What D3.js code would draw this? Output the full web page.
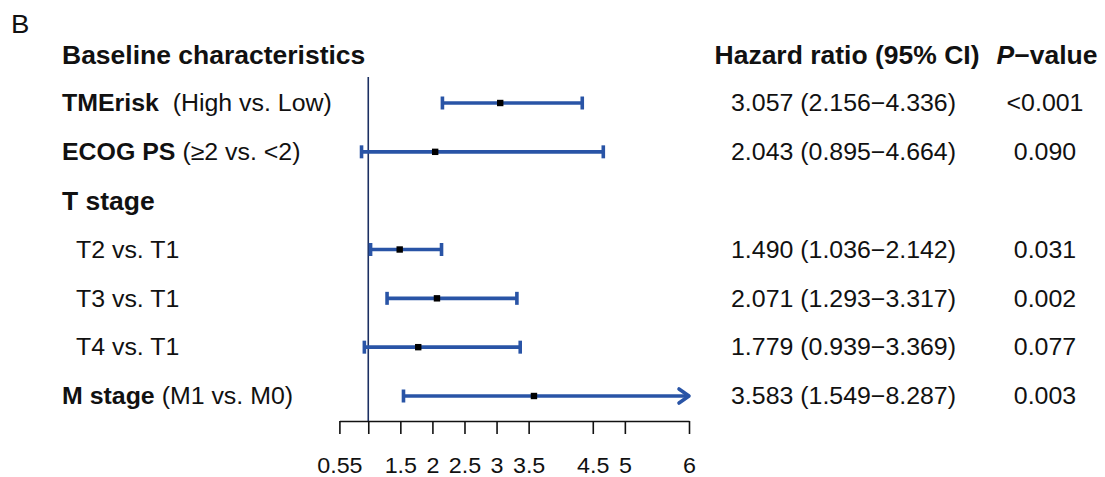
<!DOCTYPE html>
<html>
<head>
<meta charset="utf-8">
<script src="https://cdn.jsdelivr.net/npm/d3@7"></script>
<style>
  html, body { margin: 0; padding: 0; background: #fff; }
  svg text { font-family: "Liberation Sans", Arial, sans-serif; fill: #111; }
</style>
</head>
<body>
<div id="chart"></div>
<script>
/* Forest plot — multivariate Cox model, baseline characteristics */

// --- data ---
const rowBold   = ["TMErisk", "ECOG PS", "T stage", "", "", "", "M stage"];
const rowNormal = ["  (High vs. Low)", " (\u22652 vs. <2)", "", "T2 vs. T1", "T3 vs. T1", "T4 vs. T1", " (M1 vs. M0)"];
const hr        = [3.057, 2.043, null, 1.490, 2.071, 1.779, 3.583];
const lower     = [2.156, 0.895, null, 1.036, 1.293, 0.939, 1.549];
const upper     = [4.336, 4.664, null, 2.142, 3.317, 3.369, 8.287];
const pValues   = ["<0.001", "0.090", "", "0.031", "0.002", "0.077", "0.003"];
const tickVals  = [0.55, 1, 1.5, 2, 2.5, 3, 3.5, 4.5, 5, 6];

const width = 1105, height = 477;
const stretch = 1.06;           // source image is slightly wide
const blue = "#2954a6";
const fmt = d3.format(".3f");

const svg = d3.select("#chart").append("svg")
  .attr("width", width)
  .attr("height", height);

const x = d3.scaleLinear().domain([0.55, 6]).range([339.4, 689]);
const y = d3.scaleLinear().domain([0, rowBold.length - 1]).range([103, 396]);
const axisY = 421;

// text helper, stretched horizontally around its anchor point
function addText(px, py, opts) {
  const t = svg.append("text")
    .attr("transform", `translate(${px},${py}) scale(${stretch},1)`)
    .attr("font-size", opts.size || 23.5)
    .attr("text-anchor", opts.anchor || "start")
    .attr("xml:space", "preserve");
  return t;
}

// panel letter + headers
addText(11, 33, { size: 26 }).text("B");
addText(62, 64, { size: 25 }).attr("font-weight", "bold").text("Baseline characteristics");
addText(847, 64, { size: 25, anchor: "middle" }).attr("font-weight", "bold").text("Hazard ratio (95% CI)");
const ph = addText(1047, 64, { size: 25, anchor: "middle" }).attr("font-weight", "bold");
ph.append("tspan").attr("font-style", "italic").text("P");
ph.append("tspan").text("\u2212value");

// row labels and numbers
rowBold.forEach((b, i) => {
  const yy = y(i) + 8.3;
  if (b) {
    const t = addText(62, i === 2 ? yy + 1 : yy, { size: i === 2 ? 25 : 23.5 });
    t.append("tspan").attr("font-weight", "bold").text(b);
    if (rowNormal[i]) t.append("tspan").text(rowNormal[i]);
  } else {
    addText(76, yy, {}).text(rowNormal[i]);
  }
  if (hr[i] != null) {
    addText(843.5, yy, { anchor: "middle" })
      .text(`${fmt(hr[i])} (${fmt(lower[i])}\u2212${fmt(upper[i])})`);
    addText(1045, yy, { anchor: "middle" }).text(pValues[i]);
  }
});

// reference line at HR = 1
svg.append("line")
  .attr("x1", x(1)).attr("x2", x(1))
  .attr("y1", 77).attr("y2", axisY)
  .attr("stroke", "#1c2f62")
  .attr("stroke-width", 1.6);

// confidence intervals
const rows = hr.map((h, i) => ({ i, h, lo: lower[i], hi: upper[i] })).filter(d => d.h != null);
const xMax = x.domain()[1];

const ci = svg.append("g").attr("stroke", blue).attr("stroke-width", 3.6).attr("fill", "none");
rows.forEach(d => {
  const yy = y(d.i);
  const clipped = d.hi > xMax;
  const x2 = x(Math.min(d.hi, xMax));
  ci.append("line").attr("x1", x(d.lo)).attr("x2", clipped ? x2 - 1 : x2).attr("y1", yy).attr("y2", yy);
  ci.append("line").attr("x1", x(d.lo)).attr("x2", x(d.lo)).attr("y1", yy - 6.5).attr("y2", yy + 6.5);
  if (clipped) {
    ci.append("path")
      .attr("d", `M${x2 - 10},${yy - 7}L${x2},${yy}L${x2 - 10},${yy + 7}`)
      .attr("stroke-linejoin", "round")
      .attr("stroke-linecap", "round");
  } else {
    ci.append("line").attr("x1", x2).attr("x2", x2).attr("y1", yy - 6.5).attr("y2", yy + 6.5);
  }
});

// point estimates
svg.selectAll(".pt")
  .data(rows)
  .join("rect")
  .attr("class", "pt")
  .attr("x", d => x(d.h) - 3.2)
  .attr("y", d => y(d.i) - 3.2)
  .attr("width", 6.4)
  .attr("height", 6.4)
  .attr("fill", "#000");

// x axis
const axis = svg.append("g")
  .attr("transform", `translate(0,${axisY})`)
  .call(d3.axisBottom(x)
    .tickValues(tickVals)
    .tickSize(13)
    .tickSizeOuter(0)
    .tickFormat(d => d === 1 ? "" : d3.format("~g")(d)));

axis.select(".domain").attr("stroke", "#111").attr("stroke-width", 1.6);
axis.selectAll(".tick line").attr("stroke", "#111").attr("stroke-width", 1.6);
axis.selectAll(".tick text")
  .attr("font-size", 22)
  .attr("font-family", "Liberation Sans, Arial, sans-serif")
  .attr("fill", "#111")
  .attr("dy", null)
  .attr("y", 52)
  .attr("transform", `scale(${stretch},1)`);
</script>
</body>
</html>
